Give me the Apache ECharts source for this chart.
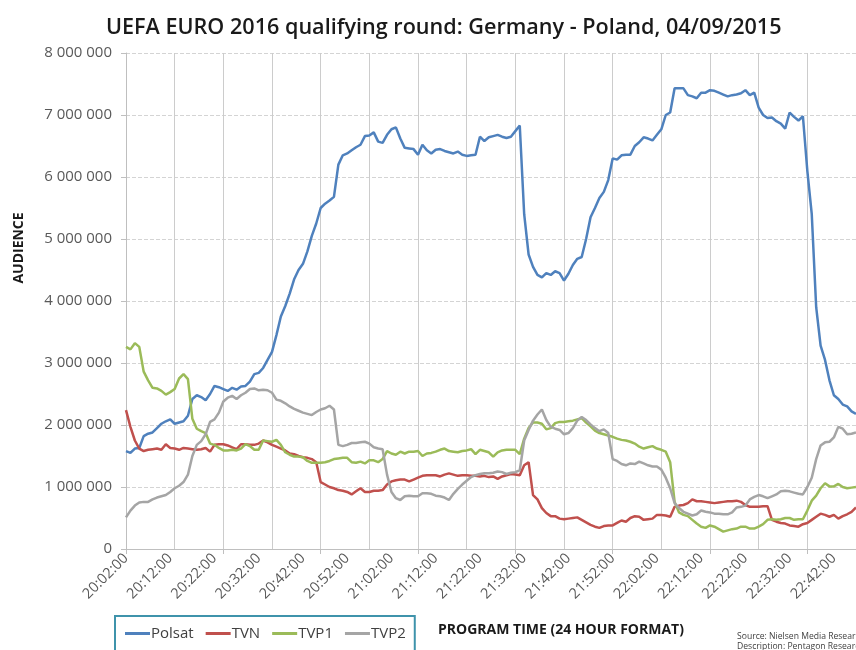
<!DOCTYPE html>
<html>
<head>
<meta charset="utf-8">
<script src="https://cdn.jsdelivr.net/npm/echarts@6/dist/echarts.min.js"></script>
<style>
  html, body { margin: 0; padding: 0; background: #fff; }
  #main { width: 856px; height: 650px; }
</style>
</head>
<body>
<div id="main"></div>
<script>
// audience per minute, in millions of viewers, 20:02 .. 22:47
var polsat = [
  1.58,1.55,1.62,1.63,1.82,1.86,1.88,1.95,2.02,2.06,
  2.09,2.02,2.04,2.06,2.15,2.42,2.48,2.45,2.40,2.50,
  2.63,2.61,2.58,2.55,2.60,2.57,2.62,2.63,2.70,2.82,
  2.84,2.92,3.05,3.18,3.45,3.75,3.92,4.12,4.35,4.50,
  4.60,4.80,5.05,5.25,5.50,5.57,5.62,5.68,6.20,6.35,
  6.38,6.43,6.48,6.52,6.66,6.67,6.72,6.57,6.55,6.68,
  6.77,6.80,6.62,6.47,6.46,6.45,6.36,6.52,6.43,6.38,
  6.44,6.45,6.42,6.40,6.38,6.41,6.36,6.34,6.35,6.36,
  6.65,6.58,6.64,6.66,6.68,6.65,6.63,6.65,6.74,6.83,
  5.40,4.75,4.55,4.42,4.38,4.45,4.42,4.48,4.45,4.33,
  4.44,4.58,4.68,4.71,5.00,5.35,5.50,5.66,5.76,5.95,
  6.30,6.28,6.35,6.36,6.36,6.50,6.56,6.64,6.62,6.59,
  6.68,6.77,7.00,7.04,7.43,7.43,7.43,7.32,7.30,7.27,
  7.36,7.36,7.40,7.39,7.36,7.33,7.30,7.32,7.33,7.35,
  7.40,7.32,7.36,7.12,7.00,6.95,6.96,6.90,6.86,6.78,
  7.04,6.97,6.91,6.98,6.10,5.40,3.90,3.28,3.05,2.72,
  2.48,2.42,2.33,2.30,2.22,2.18
];
var tvn = [
  2.24,1.97,1.75,1.62,1.58,1.60,1.61,1.62,1.60,1.69,
  1.63,1.62,1.60,1.63,1.62,1.61,1.60,1.61,1.63,1.57,
  1.68,1.69,1.69,1.67,1.64,1.61,1.69,1.69,1.68,1.68,
  1.70,1.75,1.72,1.68,1.65,1.62,1.59,1.54,1.53,1.50,
  1.48,1.47,1.45,1.40,1.08,1.04,1.00,0.98,0.95,0.94,
  0.92,0.88,0.93,0.98,0.92,0.92,0.94,0.94,0.95,1.04,
  1.09,1.11,1.12,1.12,1.09,1.12,1.15,1.18,1.19,1.19,
  1.19,1.17,1.20,1.22,1.20,1.18,1.19,1.19,1.18,1.18,
  1.17,1.18,1.16,1.17,1.13,1.17,1.19,1.21,1.20,1.19,
  1.35,1.40,0.87,0.80,0.66,0.58,0.53,0.53,0.49,0.48,
  0.49,0.50,0.51,0.47,0.43,0.39,0.36,0.34,0.37,0.38,
  0.38,0.42,0.46,0.44,0.50,0.53,0.52,0.47,0.48,0.49,
  0.55,0.55,0.54,0.52,0.68,0.70,0.71,0.74,0.80,0.77,
  0.77,0.76,0.75,0.74,0.75,0.76,0.77,0.77,0.78,0.76,
  0.71,0.68,0.68,0.68,0.69,0.69,0.47,0.44,0.42,0.41,
  0.38,0.37,0.36,0.40,0.42,0.47,0.52,0.57,0.55,0.52,
  0.55,0.49,0.53,0.56,0.60,0.67
];
var tvp1 = [
  3.26,3.22,3.32,3.26,2.86,2.72,2.60,2.59,2.55,2.49,
  2.53,2.58,2.75,2.82,2.74,2.10,1.94,1.90,1.87,1.70,
  1.68,1.63,1.59,1.59,1.60,1.59,1.62,1.69,1.66,1.60,
  1.60,1.75,1.74,1.73,1.76,1.68,1.56,1.52,1.49,1.49,
  1.48,1.42,1.39,1.39,1.39,1.40,1.42,1.45,1.46,1.47,
  1.47,1.40,1.39,1.41,1.38,1.43,1.43,1.40,1.45,1.58,
  1.54,1.52,1.57,1.54,1.57,1.57,1.58,1.50,1.54,1.55,
  1.57,1.60,1.62,1.58,1.57,1.56,1.58,1.59,1.61,1.53,
  1.60,1.58,1.56,1.49,1.56,1.59,1.60,1.60,1.60,1.53,
  1.78,1.95,2.04,2.04,2.02,1.93,1.95,2.03,2.05,2.05,
  2.06,2.07,2.09,2.11,2.04,1.98,1.91,1.87,1.85,1.83,
  1.81,1.78,1.76,1.75,1.73,1.70,1.65,1.62,1.64,1.66,
  1.62,1.60,1.57,1.40,0.76,0.59,0.55,0.53,0.47,0.41,
  0.36,0.34,0.38,0.36,0.32,0.28,0.30,0.32,0.33,0.36,
  0.36,0.33,0.33,0.36,0.40,0.47,0.48,0.47,0.48,0.50,
  0.50,0.47,0.48,0.48,0.62,0.78,0.86,0.98,1.06,1.01,
  1.01,1.05,1.00,0.98,0.99,1.00
];
var tvp2 = [
  0.51,0.62,0.70,0.75,0.76,0.76,0.80,0.83,0.85,0.87,
  0.92,0.98,1.02,1.08,1.20,1.50,1.68,1.74,1.85,2.05,
  2.09,2.20,2.38,2.44,2.47,2.42,2.48,2.52,2.58,2.59,
  2.56,2.57,2.56,2.52,2.41,2.39,2.35,2.30,2.26,2.23,
  2.20,2.18,2.16,2.21,2.25,2.27,2.31,2.25,1.68,1.66,
  1.68,1.71,1.71,1.72,1.73,1.70,1.64,1.62,1.61,1.20,
  0.92,0.82,0.79,0.85,0.86,0.85,0.85,0.90,0.90,0.89,
  0.86,0.85,0.83,0.79,0.89,0.97,1.04,1.10,1.16,1.19,
  1.21,1.22,1.22,1.23,1.25,1.24,1.21,1.23,1.24,1.27,
  1.75,1.92,2.07,2.17,2.25,2.08,1.97,1.94,1.92,1.85,
  1.87,1.95,2.07,2.13,2.08,2.01,1.95,1.90,1.93,1.87,
  1.45,1.42,1.37,1.35,1.38,1.37,1.41,1.38,1.35,1.33,
  1.33,1.28,1.15,0.98,0.74,0.66,0.60,0.57,0.54,0.56,
  0.62,0.60,0.59,0.57,0.57,0.56,0.56,0.59,0.67,0.68,
  0.70,0.80,0.84,0.87,0.85,0.82,0.85,0.88,0.93,0.94,
  0.93,0.91,0.89,0.88,1.00,1.15,1.45,1.67,1.72,1.73,
  1.80,1.97,1.94,1.85,1.86,1.88
];
var channels = ['Polsat', 'TVN', 'TVP1', 'TVP2'];
var colors = ['#4F81BD', '#C0504D', '#9BBB59', '#A5A5A5'];

// one category per minute starting at 20:02:00
var times = [];
for (var m = 0; m < polsat.length; m++) {
  var t = 20 * 60 + 2 + m;
  var hh = Math.floor(t / 60), mm = t % 60;
  times.push(hh + ':' + (mm < 10 ? '0' : '') + mm + ':00');
}

function spaced(v) {
  return String(Math.round(v * 1000000)).replace(/\B(?=(\d{3})+(?!\d))/g, ' ');
}

var font = '"Open Sans", "Noto Sans", sans-serif';
var chart = echarts.init(document.getElementById('main'));
var data = [polsat, tvn, tvp1, tvp2];

chart.setOption({
  animation: false,
  backgroundColor: '#fff',
  color: colors,
  title: {
    text: 'UEFA EURO 2016 qualifying round: Germany - Poland, 04/09/2015',
    left: 101, top: 12,
    textStyle: { fontFamily: font, fontSize: 21.6, fontWeight: 600, color: '#1a1a1a' }
  },
  legend: {
    data: channels,
    left: 115, top: 616,
    icon: 'rect', itemWidth: 25, itemHeight: 3, itemGap: 12,
    borderColor: '#3f93ab', borderWidth: 2,
    padding: [10, 9, 30, 10],
    textStyle: { fontFamily: font, fontSize: 15, color: '#404040', padding: [0, 0, 0, -4] }
  },
  grid: { left: 126, right: -1, top: 53, bottom: 101 },
  xAxis: {
    type: 'category',
    data: times,
    boundaryGap: false,
    axisLine: { lineStyle: { color: '#bfbfbf' } },
    axisTick: { show: true, length: 5, interval: function (i) { return i % 22 === 0; }, lineStyle: { color: '#bfbfbf' } },
    axisLabel: {
      interval: function (i) { return i % 10 === 0; },
      rotate: 45, margin: 7,
      fontFamily: font, fontSize: 14.5, color: '#595959'
    },
    splitLine: { show: true, interval: function (i) { return i % 11 === 0; }, lineStyle: { color: '#cccccc', width: 1 } }
  },
  yAxis: {
    type: 'value',
    min: 0, max: 8, interval: 1,
    axisLine: { show: true, lineStyle: { color: '#bfbfbf' } },
    axisTick: { show: true, length: 5, lineStyle: { color: '#bfbfbf' } },
    axisLabel: { formatter: spaced, margin: 14, fontFamily: font, fontSize: 15, color: '#595959' },
    splitLine: { lineStyle: { color: '#d4d4d4', type: 'dashed' } }
  },
  graphic: [
    { type: 'text', x: 19, y: 248, rotation: Math.PI / 2,
      style: { text: 'AUDIENCE', font: 'bold 14px ' + font, fill: '#1a1a1a', align: 'center', verticalAlign: 'middle' } },
    { type: 'text', left: 438, top: 623,
      style: { text: 'PROGRAM TIME (24 HOUR FORMAT)', font: 'bold 14px ' + font, fill: '#1a1a1a' } },
    { type: 'text', left: 737, top: 632,
      style: { text: 'Source: Nielsen Media Research', font: '8.6px ' + font, fill: '#404040' } },
    { type: 'text', left: 737, top: 642,
      style: { text: 'Description: Pentagon Research', font: '8.6px ' + font, fill: '#404040' } }
  ],
  series: channels.map(function (name, k) {
    return {
      name: name, type: 'line', data: data[k],
      symbol: 'none', lineStyle: { width: 2.5 }
    };
  })
});
</script>
</body>
</html>
